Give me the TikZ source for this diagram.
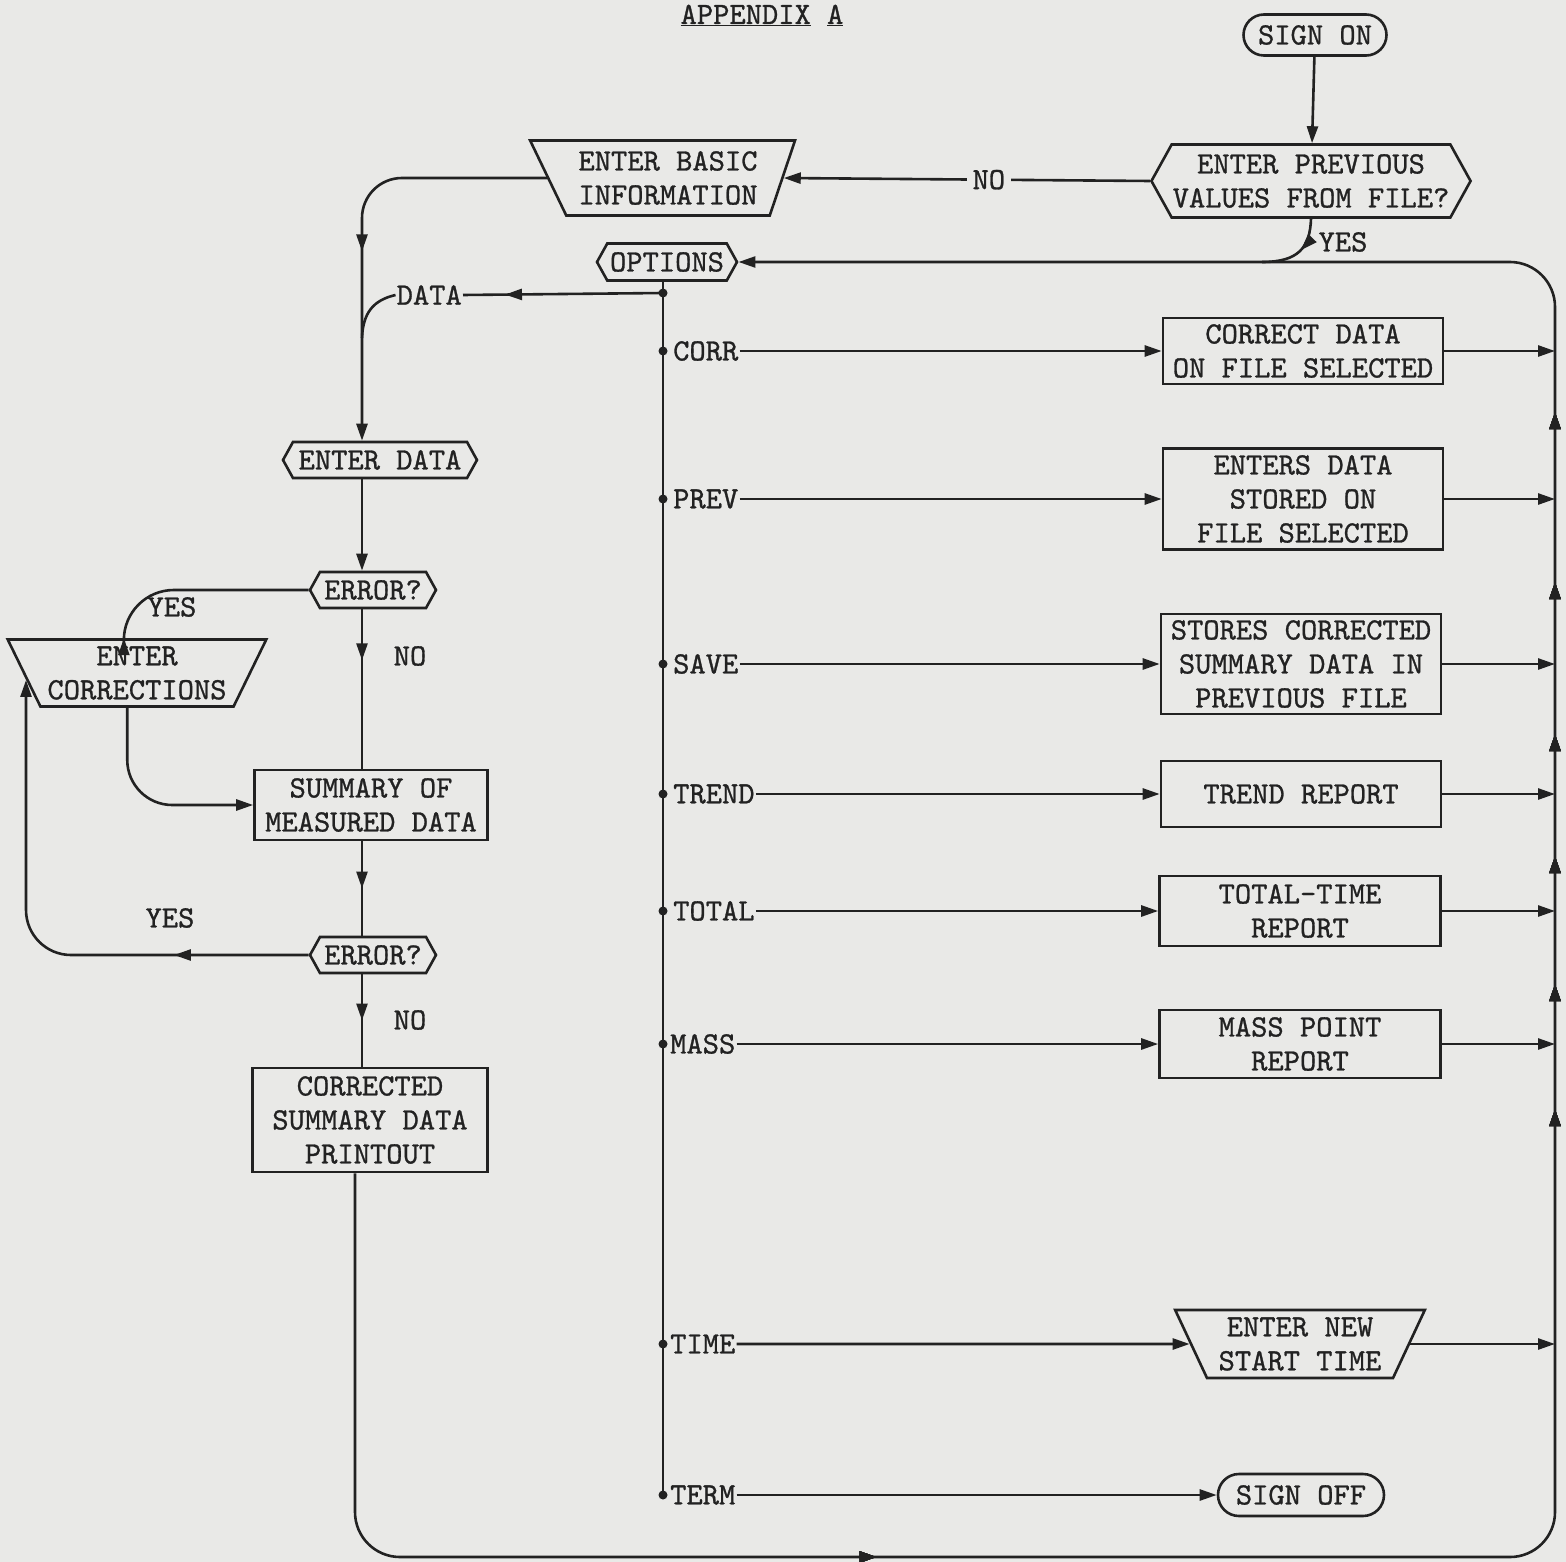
\documentclass[tikz,border=0pt]{standalone}
\usepackage{fontspec}
\newfontfamily\tw{lmmono10-regular.otf}[FakeBold=0.9]
\usetikzlibrary{shapes.geometric,shapes.symbols,shapes.misc,arrows.meta,decorations.markings,calc}
\definecolor{bg}{RGB}{233,233,231}
\definecolor{ink}{RGB}{34,34,34}
\begin{document}
\begin{tikzpicture}[x=1pt,y=-1pt,
  every node/.style={font=\tw\fontsize{31}{34}\selectfont, text=ink},
  >={Triangle[length=17pt,width=11pt]},
  ln/.style={draw=ink, line width=2.6pt},
  box/.style={ln, rectangle, align=center, inner sep=1pt},
  hexa/.style={ln, signal, signal to=west and east, signal pointer angle=122, align=center, inner sep=1pt},
  term/.style={ln, rounded rectangle, align=center, inner sep=1pt},
  manin/.style={ln, trapezium, trapezium stretches=true, align=center, inner sep=1pt},
  lbl/.style={inner sep=1pt},
  gap/.style={fill=bg, inner sep=6pt},
  midarr/.style={postaction={decorate},decoration={markings,mark=at position #1 with {\arrow{Triangle[length=17pt,width=11pt]}}}},
  absarr/.style={postaction={decorate},decoration={markings,mark=at position #1pt with {\arrow{Triangle[length=17pt,width=11pt]}}}}
]
\useasboundingbox (0,0) rectangle (1566,1562);
\fill[bg] (0,0) rectangle (1566,1562);

% title
\node[anchor=base] (title) at (762,24) {\underline{APPENDIX} \underline{A}};

% helper coordinates
\coordinate (spine) at (362,0);
\coordinate (lx) at (355,0);
\coordinate (rx) at (1555,262);
\coordinate (brc) at (1555,1557);
\coordinate (bus) at (663,0);
\coordinate (dj) at (362,338);
\coordinate (yesj) at (1262,262);

% top nodes
\node[term, minimum width=145pt, minimum height=41pt] (signon) at (1315,35) {SIGN ON};
\node[hexa, minimum width=318pt, minimum height=73pt] (prev) at (1311,181) {ENTER PREVIOUS\\VALUES FROM FILE?};
\node[manin, trapezium left angle=120, trapezium right angle=112, minimum width=265pt, minimum height=75pt] (basic) at (668,178) {ENTER BASIC\\INFORMATION};
\node[hexa, minimum width=140pt, minimum height=37pt] (options) at (667,262) {OPTIONS};

% left column
\node[hexa, minimum width=194pt, minimum height=36pt] (edata) at (380,460) {ENTER DATA};
\node[hexa, minimum width=126pt, minimum height=36pt] (err1) at (373,590) {ERROR?};
\node[manin, trapezium left angle=119, trapezium right angle=119, minimum width=259pt, minimum height=67pt] (ecorr) at (137,673) {ENTER\\CORRECTIONS};
\node[box, minimum width=233pt, minimum height=70pt] (summ) at (371,805) {SUMMARY OF\\MEASURED DATA};
\node[hexa, minimum width=126pt, minimum height=36pt] (err2) at (373,955) {ERROR?};
\node[box, minimum width=235pt, minimum height=104pt] (print) at (370,1120) {CORRECTED\\SUMMARY DATA\\PRINTOUT};

% right column
\node[box, minimum width=280pt, minimum height=66pt] (corr) at (1303,351) {CORRECT DATA\\ON FILE SELECTED};
\node[box, minimum width=280pt, minimum height=101pt] (prevd) at (1303,499) {ENTERS DATA\\STORED ON\\FILE SELECTED};
\node[box, minimum width=280pt, minimum height=100pt] (save) at (1301,664) {STORES CORRECTED\\SUMMARY DATA IN\\PREVIOUS FILE};
\node[box, minimum width=280pt, minimum height=66pt] (trend) at (1301,794) {TREND REPORT};
\node[box, minimum width=281pt, minimum height=70pt] (total) at (1300,911) {TOTAL-TIME\\REPORT};
\node[box, minimum width=281pt, minimum height=68pt] (mass) at (1300,1044) {MASS POINT\\REPORT};
\node[manin, trapezium left angle=117, trapezium right angle=117, minimum width=250pt, minimum height=68pt] (newtime) at (1300,1344) {ENTER NEW\\START TIME};
\node[term, minimum width=168pt, minimum height=42pt] (signoff) at (1301,1495) {SIGN OFF};

% bus branch points
\coordinate (bdata) at (663,293);
\coordinate (bcorr) at (663,351);
\coordinate (bprev) at (663,499);
\coordinate (bsave) at (663,664);
\coordinate (btrend) at (663,794);
\coordinate (btotal) at (663,911);
\coordinate (bmass) at (663,1044);
\coordinate (btime) at (663,1344);
\coordinate (bterm) at (663,1495);

% option labels
\node[lbl, anchor=east] (ldata) at (463,295) {DATA};
\node[lbl, anchor=west] (lcorr) at (672,351) {CORR};
\node[lbl, anchor=west] (lprev) at (672,499) {PREV};
\node[lbl, anchor=west] (lsave) at (672,664) {SAVE};
\node[lbl, anchor=west] (ltrend) at (672,794) {TREND};
\node[lbl, anchor=west] (ltotal) at (672,911) {TOTAL};
\node[lbl, anchor=west] (lmass) at (669,1044) {MASS};
\node[lbl, anchor=west] (ltime) at (669,1344) {TIME};
\node[lbl, anchor=west] (lterm) at (669,1495) {TERM};

% branch labels
\node[lbl] (yes0) at (1343,242) {YES};
\node[lbl] (yes1) at (172,607) {YES};
\node[lbl] (no1) at (410,656) {NO};
\node[lbl] (yes2) at (170,918) {YES};
\node[lbl] (no2) at (410,1020) {NO};

% ---- connectors ----
\draw[ln,->] (signon) -- (prev);
\draw[ln,->] (prev.west) -- node[gap, pos=0.44] (nolbl) {NO} (basic.east);
\draw[ln,midarr=0.45] (prev.south) .. controls (1310,248) and (1298,262) .. (yesj);

% main loop from printout back to options
\draw[ln,->,rounded corners=45pt,
      absarr=886, absarr=1993, absarr=2118, absarr=2246, absarr=2368, absarr=2520, absarr=2690]
  (print.south -| lx) |- (brc) |- (options.east);

% left side
\draw[ln,->,midarr=0.56,rounded corners=40pt] (basic.west) -| (edata.north -| spine);
\draw[ln,midarr=0.79] (bdata) -- (ldata.east);
\draw[ln] (ldata.west) .. controls (374,300) and (363,312) .. (dj);
\draw[ln,->] (edata.south -| spine) -- (err1.north -| spine);
\draw[ln,->,rounded corners=50pt] (err1.west) -| ($(ecorr.top left corner)!0.45!(ecorr.top right corner)$);
\draw[ln,midarr=0.32] (err1.south -| spine) -- (summ.north -| spine);
\draw[ln,->,rounded corners=45pt] ($(ecorr.bottom left corner)!0.45!(ecorr.bottom right corner)$) |- (summ.west);
\draw[ln,midarr=0.5] (summ.south -| spine) -- (err2.north -| spine);
\draw[ln,->,midarr=0.25,rounded corners=45pt] (err2.west) -| ($(ecorr.top left corner)!0.6!(ecorr.bottom left corner)$);
\draw[ln,midarr=0.5] (err2.south -| spine) -- (print.north -| spine);

% options bus
\draw[draw=ink, line width=2pt] (options.south -| bus) -- (bterm);
\foreach \b in {bdata,bcorr,bprev,bsave,btrend,btotal,bmass,btime,bterm}
  \fill[ink] (\b) circle (4.5pt);

\draw[ln,->] (lcorr.east) -- (corr.west);
\draw[ln,->] (lprev.east) -- (prevd.west);
\draw[ln,->] (lsave.east) -- (save.west);
\draw[ln,->] (ltrend.east) -- (trend.west);
\draw[ln,->] (ltotal.east) -- (total.west);
\draw[ln,->] (lmass.east) -- (mass.west);
\draw[ln,->] (ltime.east) -- (newtime.west);
\draw[ln,->] (lterm.east) -- (signoff.west);

% outputs to return line
\draw[ln,->] (corr.east) -- (corr.east -| rx);
\draw[ln,->] (prevd.east) -- (prevd.east -| rx);
\draw[ln,->] (save.east) -- (save.east -| rx);
\draw[ln,->] (trend.east) -- (trend.east -| rx);
\draw[ln,->] (total.east) -- (total.east -| rx);
\draw[ln,->] (mass.east) -- (mass.east -| rx);
\draw[ln,->] (newtime.east) -- (newtime.east -| rx);
\end{tikzpicture}
\end{document}
